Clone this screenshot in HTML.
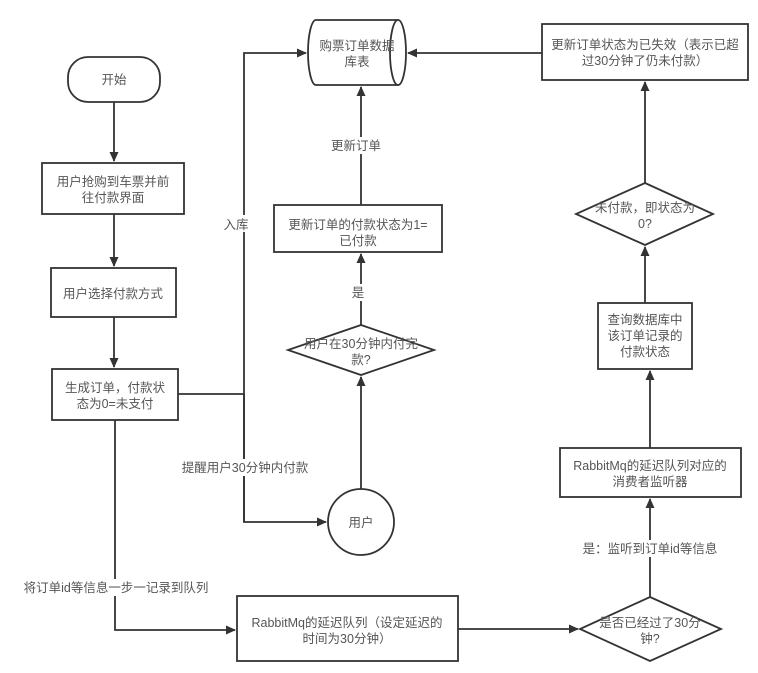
<!DOCTYPE html>
<html><head><meta charset="utf-8"><style>
body{margin:0;background:#fff}
svg text{font-family:"Liberation Sans","Noto Sans CJK SC",sans-serif;font-size:12.5px;fill:#555;text-anchor:middle}
</style></head><body>
<svg width="758" height="668" viewBox="0 0 758 668" xmlns="http://www.w3.org/2000/svg">
<defs><marker id="a" markerWidth="10" markerHeight="9" refX="9" refY="4.5" orient="auto" markerUnits="userSpaceOnUse"><path d="M0,0 L10,4.5 L0,9 z" fill="#333"/></marker></defs>
<g stroke="#333" stroke-width="1.8" fill="none">
<rect x="68" y="57" width="92" height="45" rx="20" fill="#fff"/>
<rect x="42" y="163" width="142" height="51" fill="#fff"/>
<rect x="51" y="268" width="125" height="49" fill="#fff"/>
<rect x="52" y="369" width="126" height="51" fill="#fff"/>
<rect x="274" y="205" width="168" height="47" fill="#fff"/>
<polygon points="361,325 434,350 361,375 288,350" fill="#fff"/>
<ellipse cx="361" cy="522" rx="33" ry="33" fill="#fff"/>
<path d="M316,20 L398,20 A8,32.5 0 0 1 398,85 L316,85 A8,32.5 0 0 1 316,20 Z" fill="#fff"/>
<path d="M398,20 A8,32.5 0 0 0 398,85"/>
<rect x="542" y="24" width="206" height="56" fill="#fff"/>
<polygon points="645,183 713,214 645,245 576,214" fill="#fff"/>
<rect x="598" y="303" width="94" height="66" fill="#fff"/>
<rect x="560" y="448" width="181" height="49" fill="#fff"/>
<rect x="237" y="596" width="221" height="65" fill="#fff"/>
<polygon points="650,597 721,629 650,661 580,629" fill="#fff"/>
<line x1="114" y1="102" x2="114" y2="161" marker-end="url(#a)"/>
<line x1="114" y1="214" x2="114" y2="266" marker-end="url(#a)"/>
<line x1="114" y1="317" x2="114" y2="367" marker-end="url(#a)"/>
<polyline points="178,394 244,394"/>
<polyline points="244,522 244,53 306,53" marker-end="url(#a)"/>
<polyline points="244,394 244,522 326,522" marker-end="url(#a)"/>
<line x1="361" y1="489" x2="361" y2="377" marker-end="url(#a)"/>
<line x1="361" y1="325" x2="361" y2="254" marker-end="url(#a)"/>
<line x1="361" y1="205" x2="361" y2="87" marker-end="url(#a)"/>
<line x1="542" y1="53" x2="408" y2="53" marker-end="url(#a)"/>
<line x1="645" y1="183" x2="645" y2="82" marker-end="url(#a)"/>
<line x1="645" y1="303" x2="645" y2="247" marker-end="url(#a)"/>
<line x1="650" y1="448" x2="650" y2="371" marker-end="url(#a)"/>
<line x1="650" y1="597" x2="650" y2="499" marker-end="url(#a)"/>
<polyline points="115,420 115,630 235,630" marker-end="url(#a)"/>
<line x1="458" y1="629" x2="578" y2="629" marker-end="url(#a)"/>
</g>
<text x="114" y="84">开始</text>
<text x="113" y="186">用户抢购到车票并前</text><text x="113" y="202">往付款界面</text>
<text x="113" y="298">用户选择付款方式</text>
<text x="115" y="392">生成订单，付款状</text><text x="115" y="408">态为0=未支付</text>
<text x="358" y="229">更新订单的付款状态为1=</text><text x="358" y="245">已付款</text>
<text x="361" y="348">用户在30分钟内付完</text><text x="361" y="364">款?</text>
<text x="361" y="527">用户</text>
<text x="357" y="50">购票订单数据</text><text x="357" y="66">库表</text>
<text x="645" y="49">更新订单状态为已失效（表示已超</text><text x="645" y="65">过30分钟了仍未付款）</text>
<text x="645" y="212">未付款，即状态为</text><text x="645" y="228">0?</text>
<text x="645" y="324">查询数据库中</text><text x="645" y="340">该订单记录的</text><text x="645" y="356">付款状态</text>
<text x="650" y="470">RabbitMq的延迟队列对应的</text><text x="650" y="486">消费者监听器</text>
<text x="347" y="627">RabbitMq的延迟队列（设定延迟的</text><text x="347" y="643">时间为30分钟）</text>
<text x="650" y="627">是否已经过了30分</text><text x="650" y="643">钟?</text>
<rect x="224" y="215" width="24" height="17" fill="#fff"/><text x="236" y="229">入库</text>
<rect x="330" y="137" width="52" height="17" fill="#fff"/><text x="356" y="150">更新订单</text>
<rect x="350" y="284" width="16" height="17" fill="#fff"/><text x="358" y="297">是</text>
<rect x="178" y="459" width="134" height="17" fill="#fff"/><text x="245" y="472">提醒用户30分钟内付款</text>
<rect x="20" y="579" width="192" height="17" fill="#fff"/><text x="116" y="592">将订单id等信息一步一记录到队列</text>
<rect x="580" y="540" width="140" height="17" fill="#fff"/><text x="650" y="553">是：监听到订单id等信息</text>
</svg>
</body></html>
